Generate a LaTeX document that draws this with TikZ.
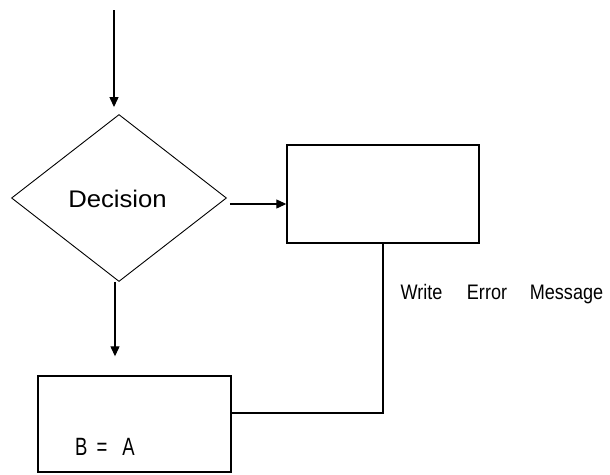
\documentclass[tikz,border=0pt]{standalone}
\usepackage{fontspec}
\setmainfont{Liberation Sans}
\newfontfamily\widefont[FakeStretch=1.07]{Liberation Sans}
\newfontfamily\narrowfont[FakeStretch=0.86]{Liberation Sans}
\newfontfamily\slimfont[FakeStretch=0.74]{Liberation Sans}
\usetikzlibrary{shapes.geometric,arrows.meta}
\begin{document}
\begin{tikzpicture}[x=1pt,y=-1pt,
  boxnode/.style={draw,line width=1.4pt,minimum width=#1,inner sep=0pt},
  decnode/.style={draw,line width=0.9pt,shape=diamond,shape aspect=1.29,minimum width=215pt,minimum height=167pt,inner sep=0pt},
  conn/.style={line width=1.2pt,-{Triangle[length=10pt,width=9pt]}},
  plain/.style={line width=1.4pt},
  lbl/.style={font=\narrowfont\fontsize{21}{23}\selectfont,inner sep=0pt,anchor=base}]
\useasboundingbox (0,0) rectangle (610,474);
\node[decnode] (d) at (119,198) {};
\node[font=\widefont\fontsize{24}{26}\selectfont,inner sep=0pt,anchor=base] (dt) at (117.5,207) {Decision};
\node[boxnode=192pt,minimum height=98pt] (r) at (383,194) {};
\node[boxnode=193pt,minimum height=96pt] (b) at (134.5,424) {};
\node[font=\slimfont\fontsize{25}{27}\selectfont,inner sep=0pt,anchor=base west] (ba) at (75,455) {B\hspace{9pt}=\hspace{15pt}A};
\node[lbl] (w1) at (421.5,299.5) {Write};
\node[lbl] (w2) at (487,299.5) {Error};
\node[lbl] (w3) at (566.5,299.5) {Message};
\coordinate (t) at (114,10);
\coordinate (j) at (383,413);
\draw[conn] (t) -- ([yshift=7pt]t |- d.north);
\draw[conn] ([xshift=3pt,yshift=-6pt]d.east) -- ([yshift=-6pt]r.west |- d.east);
\draw[conn] (115,0 |- d.south) -- ([yshift=19pt]115,0 |- b.north);
\draw[plain] (r.south -| j) -- (j) -- (b.east |- j);
\end{tikzpicture}
\end{document}
